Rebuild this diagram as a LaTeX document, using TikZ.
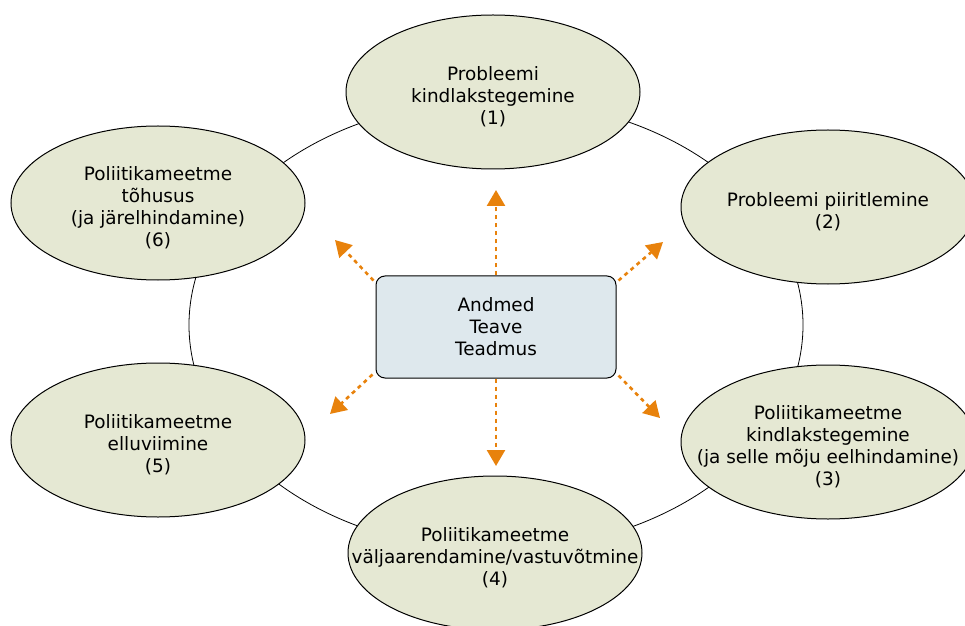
\documentclass[tikz,border=0pt]{standalone}
\usepackage{fontspec}
\setmainfont{DejaVu Sans}
\usetikzlibrary{shapes.geometric,arrows.meta}

\definecolor{phasefill}{RGB}{229,232,211}
\definecolor{datafill}{RGB}{222,232,237}
\definecolor{floworange}{RGB}{232,130,12}

\tikzset{
  orbit/.style={ellipse, draw, line width=0.8bp, minimum width=614bp, minimum height=450bp},
  phase/.style={ellipse, draw, line width=1bp, fill=phasefill, minimum width=294bp, minimum height=154bp, inner sep=0pt},
  phasetext/.style={align=center, inner sep=0pt, yshift=-5bp, font=\fontsize{18.5pt}{22pt}\selectfont},
  databox/.style={draw, line width=1bp, fill=datafill, rounded corners=9bp, minimum width=240bp, minimum height=102bp, align=center, font=\fontsize{18.5pt}{22pt}\selectfont},
  flowarrow/.style={draw=floworange, line width=2.6bp, dash pattern=on 4bp off 4bp, -{Triangle[width=18bp,length=16bp,fill=floworange]}}
}

\begin{document}
\begin{tikzpicture}[x=1bp, y=-1bp]
  \useasboundingbox (0,0) rectangle (965,626);

  % cycle behind the phases
  \node[orbit] (cycle) at (496,325) {};

  \node[phase] (p1) at (493,92) {};
  \node[phase] (p2) at (828,207) {};
  \node[phase] (p3) at (828,442) {};
  \node[phase] (p4) at (495,553) {};
  \node[phase] (p5) at (158,440) {};
  \node[phase] (p6) at (158,203) {};

  \node[phasetext] (t1) at (p1) {Probleemi\\kindlakstegemine\\(1)};
  \node[phasetext] (t2) at (p2) {Probleemi piiritlemine\\(2)};
  \node[phasetext] (t3) at (p3) {Poliitikameetme\\kindlakstegemine\\(ja selle mõju eelhindamine)\\(3)};
  \node[phasetext] (t4) at (p4) {Poliitikameetme\\väljaarendamine/vastuvõtmine\\(4)};
  \node[phasetext] (t5) at (p5) {Poliitikameetme\\elluviimine\\(5)};
  \node[phasetext] (t6) at (p6) {Poliitikameetme\\tõhusus\\(ja järelhindamine)\\(6)};

  % data in the middle
  \node[databox] (data) at (496,327) {Andmed\\Teave\\Teadmus};

  \coordinate (up)    at (496,190);
  \coordinate (down)  at (496,466);
  \coordinate (upl)   at (335,240);
  \coordinate (upr)   at (663,242);
  \coordinate (downl) at (330,414);
  \coordinate (downr) at (660,418);

  \draw[flowarrow] (data.north) -- (up);
  \draw[flowarrow] (data.south) -- (down);
  \draw[flowarrow] ([shift={(-2,5)}]data.north west) -- (upl);
  \draw[flowarrow] ([shift={(2,5)}]data.north east) -- (upr);
  \draw[flowarrow] ([shift={(-3,-4)}]data.south west) -- (downl);
  \draw[flowarrow] ([shift={(2,-3)}]data.south east) -- (downr);
\end{tikzpicture}
\end{document}
